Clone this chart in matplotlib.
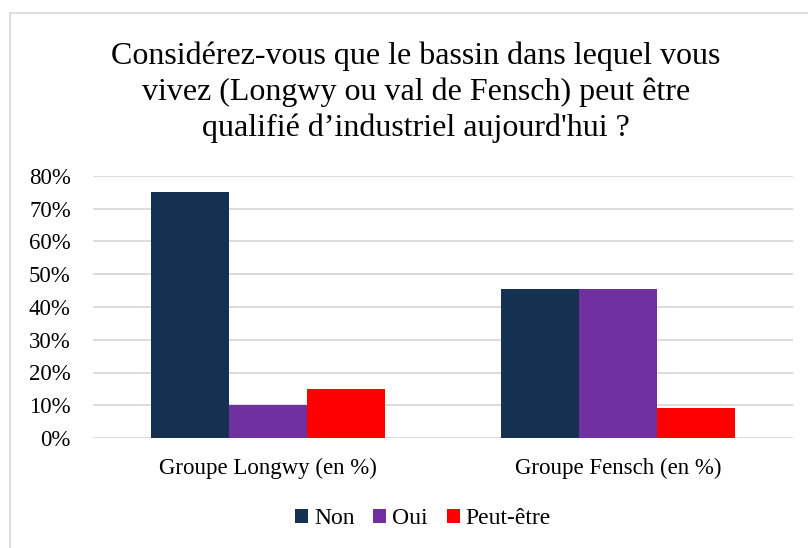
import matplotlib
matplotlib.use("Agg")
import matplotlib.pyplot as plt
import numpy as np
from matplotlib.patches import Rectangle
from matplotlib.ticker import PercentFormatter

categories = ["Groupe Longwy (en %)", "Groupe Fensch (en %)"]
series = ["Non", "Oui", "Peut-être"]
non = [75.0, 45.45]
oui = [10.0, 45.45]
peut = [15.0, 9.09]
colors = ["#143152", "#7030a0", "#ff0000"]
title = "Considérez-vous que le bassin dans lequel vous\nvivez (Longwy ou val de Fensch) peut être\nqualifié d\u2019industriel aujourd'hui ?"

plt.rcParams['font.family'] = ['Liberation Serif', 'DejaVu Serif']

W, H = 808, 548
fig = plt.figure(figsize=(W/100, H/100), dpi=100)
fig.patches.append(Rectangle((10/W, -0.1), 1.2, 1 - 13/H + 0.1, transform=fig.transFigure,
                             fill=False, edgecolor="#d9d9d9", linewidth=1.2))

ax = fig.add_axes([93/W, 1 - 438/H, 700/W, 262/H])
x = np.arange(len(categories))
bw = 0.2238
for i, (vals, name, c) in enumerate(zip([non, oui, peut], series, colors)):
    ax.bar(x + (i - 1) * bw, vals, bw, color=c, label=name, zorder=3)

ax.set_xlim(-0.5, 1.5)
ax.set_ylim(0, 80)
ax.set_yticks(np.arange(0, 81, 10))
ax.yaxis.set_major_formatter(PercentFormatter(decimals=0))
ax.set_xticks(x)
ax.set_xticklabels(categories)
ax.tick_params(axis='both', length=0, labelsize=16.5, colors="#000000")
ax.tick_params(axis='y', pad=16)
ax.tick_params(axis='x', pad=14.5)
ax.grid(axis='y', color="#d9d9d9", linewidth=1.3, zorder=0)
for s in ax.spines.values():
    s.set_visible(False)

fig.text(416/W, 1 - 92/H, title, ha='center', va='center', fontsize=23,
         linespacing=1.28, transform=fig.transFigure)

leg = fig.legend(loc='center', bbox_to_anchor=(423/W, 1 - 519/H), ncol=3, frameon=False,
                 fontsize=17, handlelength=0.55, handleheight=0.55, handletextpad=0.25,
                 columnspacing=0.8)

fig.savefig("out.png", dpi=100)
